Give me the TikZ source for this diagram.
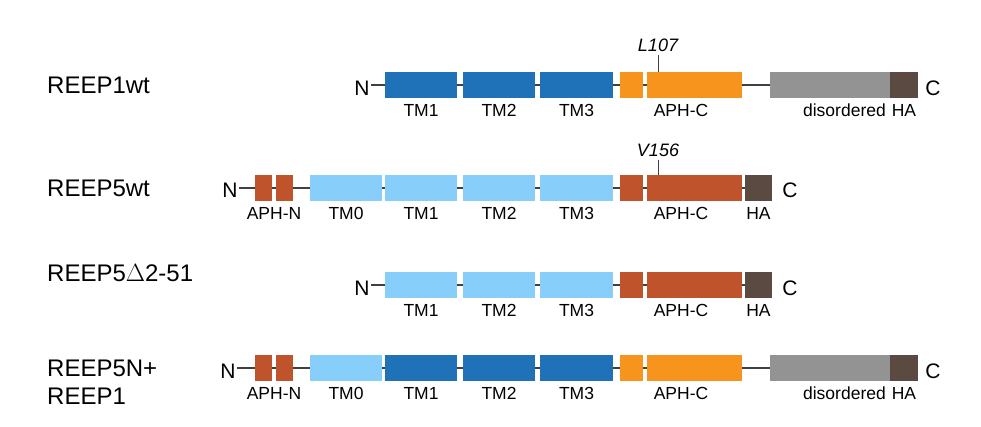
\documentclass[tikz,border=0pt]{standalone}
\usepackage{fontspec}
\setmainfont{Liberation Sans}
\usetikzlibrary{backgrounds}
\definecolor{tmdark}{HTML}{1F72B8}
\definecolor{tmlight}{HTML}{87CEFA}
\definecolor{aphor}{HTML}{F7941D}
\definecolor{aphbr}{HTML}{BF532B}
\definecolor{disgray}{HTML}{939393}
\definecolor{habrown}{HTML}{5B4A42}
\tikzset{
  dombox/.style={draw=none,inner sep=0pt,minimum height=26pt},
  lab/.style={font=\fontsize{17.5}{17.5}\selectfont,anchor=north,inner sep=0pt,yshift=-6pt},
  term/.style={font=\fontsize{21}{21}\selectfont,inner sep=1pt},
  rowname/.style={font=\fontsize{24}{28}\selectfont,anchor=west,align=left,inner sep=0pt},
  mut/.style={font=\fontsize{18}{18}\selectfont\itshape,inner sep=0pt},
  bb/.style={line width=2.5pt,color=black!75}
}
% domain box: name, left, right, y, colour
\newcommand\dom[5]{\node[dombox,fill=#5,minimum width={(#3-#2)*1pt}] (#1) at ({(#2+#3)/2},#4) {};}

\begin{document}
\begin{tikzpicture}[x=1pt,y=-1pt]
\useasboundingbox (0,0) rectangle (981,427);

% REEP1wt
\node[rowname] (r1) at (47,85) {REEP1wt};
\node[term] (n1) at (362,88) {N};
\dom{a1}{385}{457}{85}{tmdark}
\dom{b1}{463}{535}{85}{tmdark}
\dom{c1}{540}{613}{85}{tmdark}
\dom{d1}{620}{643}{85}{aphor}
\dom{e1}{647}{742}{85}{aphor}
\dom{f1}{770}{890}{85}{disgray}
\dom{g1}{890}{918}{85}{habrown}
\node[term] (t1) at (933,88) {C};
\begin{pgfonlayer}{background}
\draw[bb] (n1.east |- a1) -- (g1.west);
\end{pgfonlayer}
\node[lab] at (a1.south) {TM1};
\node[lab] at (b1.south) {TM2};
\node[lab] at (c1.south) {TM3};
\node[lab] at (681,98) {APH-C};
\node[lab,anchor=north east] at (886,98) {disordered};
\node[lab] at (g1.south) {HA};
\node[mut] (m1) at (658,45) {L107};
\draw[thick,black!75] (m1.south) ++(0,3) -- (658,72);

% REEP5wt
\node[rowname] (r2) at (47,188) {REEP5wt};
\node[term] (n2) at (230,190) {N};
\dom{p2}{255}{272}{188}{aphbr}
\dom{q2}{276}{293}{188}{aphbr}
\dom{z2}{310}{382}{188}{tmlight}
\dom{a2}{385}{457}{188}{tmlight}
\dom{b2}{463}{535}{188}{tmlight}
\dom{c2}{540}{613}{188}{tmlight}
\dom{d2}{620}{643}{188}{aphbr}
\dom{e2}{647}{742}{188}{aphbr}
\dom{g2}{745}{772}{188}{habrown}
\node[term] (t2) at (790,190) {C};
\begin{pgfonlayer}{background}
\draw[bb] (n2.east |- a2) -- (g2.west);
\end{pgfonlayer}
\node[lab] at (274,201) {APH-N};
\node[lab] at (z2.south) {TM0};
\node[lab] at (a2.south) {TM1};
\node[lab] at (b2.south) {TM2};
\node[lab] at (c2.south) {TM3};
\node[lab] at (681,201) {APH-C};
\node[lab] at (g2.south) {HA};
\node[mut] (m2) at (658,150) {V156};
\draw[thick,black!75] (m2.south) ++(0,3) -- (658,175);

% REEP5 delta 2-51
\node[rowname] (r3) at (47,273) {REEP5$\Delta$2-51};
\node[term] (n3) at (362,288) {N};
\dom{a3}{385}{457}{285}{tmlight}
\dom{b3}{463}{535}{285}{tmlight}
\dom{c3}{540}{613}{285}{tmlight}
\dom{d3}{620}{643}{285}{aphbr}
\dom{e3}{647}{742}{285}{aphbr}
\dom{g3}{745}{772}{285}{habrown}
\node[term] (t3) at (790,288) {C};
\begin{pgfonlayer}{background}
\draw[bb] (n3.east |- a3) -- (g3.west);
\end{pgfonlayer}
\node[lab] at (a3.south) {TM1};
\node[lab] at (b3.south) {TM2};
\node[lab] at (c3.south) {TM3};
\node[lab] at (681,298) {APH-C};
\node[lab] at (g3.south) {HA};

% REEP5N+REEP1
\node[rowname] (r4) at (47,382) {REEP5N+\\REEP1};
\node[term] (n4) at (228,371) {N};
\dom{p4}{255}{272}{368}{aphbr}
\dom{q4}{276}{293}{368}{aphbr}
\dom{z4}{310}{382}{368}{tmlight}
\dom{a4}{385}{457}{368}{tmdark}
\dom{b4}{463}{535}{368}{tmdark}
\dom{c4}{540}{613}{368}{tmdark}
\dom{d4}{620}{643}{368}{aphor}
\dom{e4}{647}{742}{368}{aphor}
\dom{f4}{770}{890}{368}{disgray}
\dom{g4}{890}{918}{368}{habrown}
\node[term] (t4) at (933,371) {C};
\begin{pgfonlayer}{background}
\draw[bb] (n4.east |- a4) -- (g4.west);
\end{pgfonlayer}
\node[lab] at (274,381) {APH-N};
\node[lab] at (z4.south) {TM0};
\node[lab] at (a4.south) {TM1};
\node[lab] at (b4.south) {TM2};
\node[lab] at (c4.south) {TM3};
\node[lab] at (681,381) {APH-C};
\node[lab,anchor=north east] at (886,381) {disordered};
\node[lab] at (g4.south) {HA};
\end{tikzpicture}
\end{document}
